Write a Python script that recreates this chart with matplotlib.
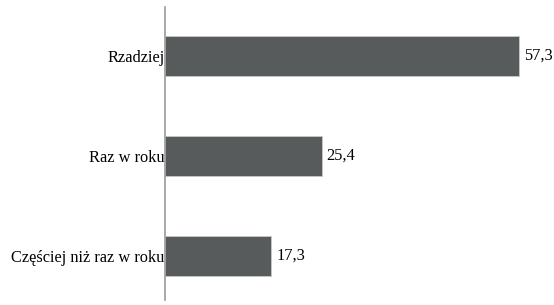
import matplotlib.pyplot as plt

categories = ["Częściej niż raz w roku", "Raz w roku", "Rzadziej"]
values = [17.3, 25.4, 57.3]
value_labels = ["17,3", "25,4", "57,3"]

plt.rcParams['font.family'] = ['Liberation Serif', 'DejaVu Serif']

fig = plt.figure(figsize=(5.54, 3.05), dpi=100)
ax = fig.add_axes([164.5 / 554, 5 / 305, 1 - 164.5 / 554, 293 / 305])

ypos = range(len(categories))
bars = ax.barh(ypos, values, height=0.4, color="#585b5b", edgecolor="#c8c8c8", linewidth=0.6)

for y, v, lab in zip(ypos, values, value_labels):
    ax.text(v + 0.8, y, lab, va="center", ha="left", fontsize=11.8)

ax.set_yticks(list(ypos))
ax.set_yticklabels(categories, fontsize=11.8)
ax.tick_params(axis="y", length=0, pad=0)
ax.set_xticks([])
ax.set_xlim(0, 63)
ax.set_ylim(-0.44, 2.49)

for s in ["top", "right", "bottom"]:
    ax.spines[s].set_visible(False)
ax.spines["left"].set_color("#999999")
ax.spines["left"].set_linewidth(1.2)

fig.savefig("out.png", dpi=100)
